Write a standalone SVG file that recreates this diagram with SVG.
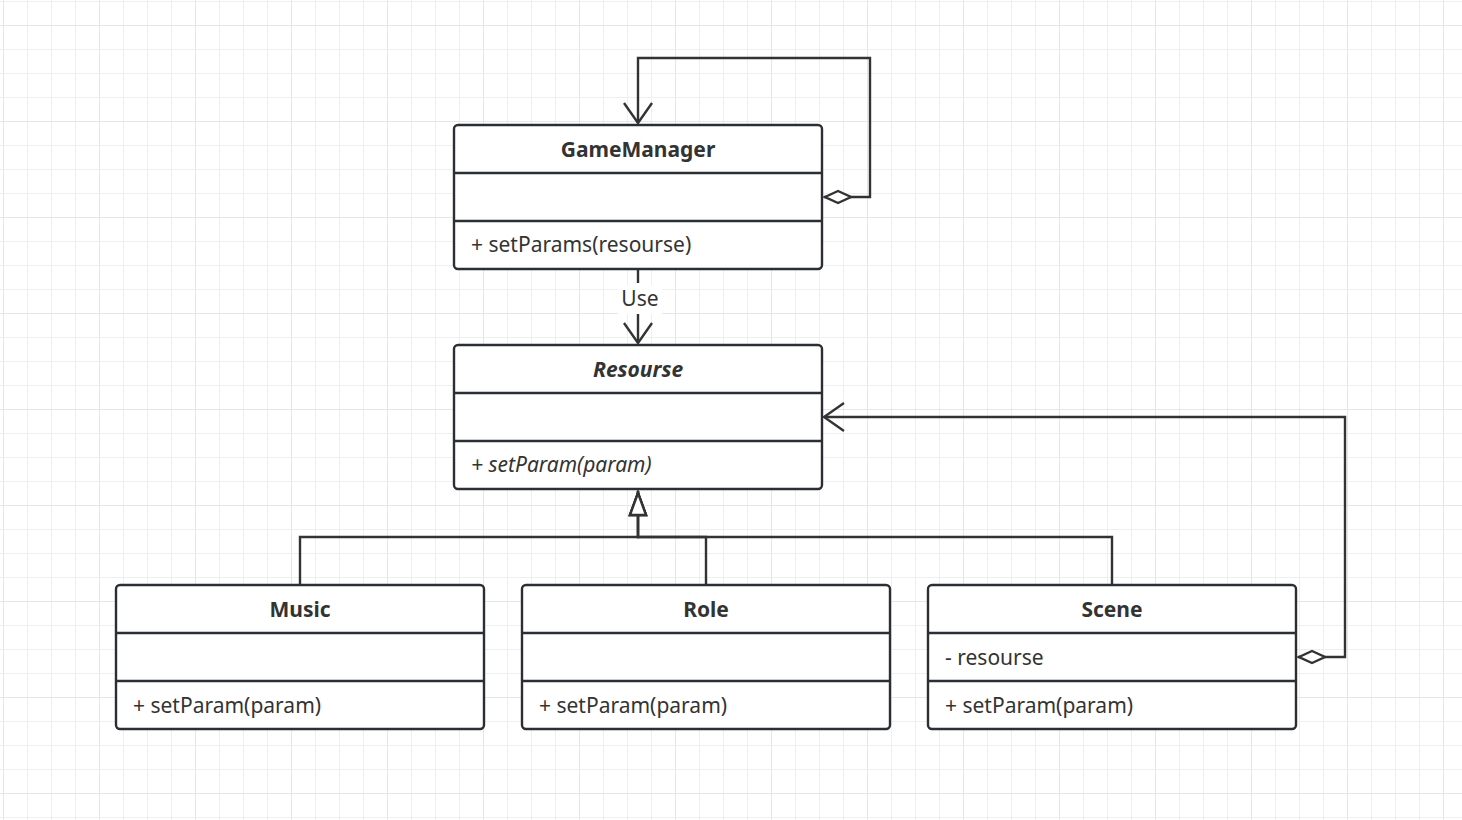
<svg xmlns="http://www.w3.org/2000/svg" width="1462" height="820" viewBox="0 0 1462 820">
<defs>
<pattern id="minor" x="3" y="1" width="24" height="24" patternUnits="userSpaceOnUse">
<path d="M0 0H24M0 0V24" fill="none" stroke="#efefef" stroke-width="2"/>
</pattern>
<pattern id="major" x="3" y="25" width="96" height="96" patternUnits="userSpaceOnUse">
<path d="M0 0H96M0 0V96" fill="none" stroke="#e6e6e6" stroke-width="2"/>
</pattern>
<marker id="open" viewBox="0 0 24 32" refX="22" refY="16" markerWidth="24" markerHeight="32" markerUnits="userSpaceOnUse" orient="auto">
<path d="M2 2L22 16L2 30" fill="none" stroke="#333" stroke-width="2.4"/>
</marker>
<marker id="diamond" viewBox="0 0 32 16" refX="1" refY="8" markerWidth="32" markerHeight="16" markerUnits="userSpaceOnUse" orient="auto">
<path d="M2 8L15 2L28 8L15 14Z" fill="#fff" stroke="#333" stroke-width="2.4"/>
</marker>
<marker id="tri" viewBox="0 0 28 20" refX="26" refY="10" markerWidth="28" markerHeight="20" markerUnits="userSpaceOnUse" orient="auto">
<path d="M2 2L24 10L2 18Z" fill="#fff" stroke="#333" stroke-width="2.4"/>
</marker>
</defs>
<style>
.box{fill:#fff;stroke:#2b2f33;stroke-width:2.4}
.div{stroke:#2b2f33;stroke-width:2.4}
.edge{fill:none;stroke:#333;stroke-width:2.4}
.t{font-family:"Noto Sans","Open Sans",sans-serif;fill:#333;font-size:21px}
.h{font-weight:bold;text-anchor:middle}
.i{font-style:italic}
</style>
<rect width="1462" height="820" fill="#fff"/>
<rect width="1462" height="820" fill="url(#minor)"/>
<rect width="1462" height="820" fill="url(#major)"/>

<g id="connectors">
<path class="edge" d="M824 197H870V58H638V123" marker-start="url(#diamond)" marker-end="url(#open)"/>
<path class="edge" d="M638 269V343" stroke-dasharray="14 31 32" marker-end="url(#open)"/>
<rect x="618" y="285" width="44" height="29" fill="#fff"/>
<text class="t" x="640" y="306" text-anchor="middle" font-size="20">Use</text>
<path class="edge" d="M1298 657H1345V417H824" marker-start="url(#diamond)" marker-end="url(#open)"/>
<path class="edge" d="M300 585V537H638V491" marker-end="url(#tri)"/>
<path class="edge" d="M706 585V537H638V491" marker-end="url(#tri)"/>
<path class="edge" d="M1112 585V537H638V491" marker-end="url(#tri)"/>
</g>

<g id="GameManager">
<rect class="box" x="454" y="125" width="368" height="144" rx="4"/>
<line class="div" x1="454" y1="173" x2="822" y2="173"/>
<line class="div" x1="454" y1="221" x2="822" y2="221"/>
<text class="t h" x="638" y="157">GameManager</text>
<text class="t" x="471" y="252">+ setParams(resourse)</text>
</g>

<g id="Resourse">
<rect class="box" x="454" y="345" width="368" height="144" rx="4"/>
<line class="div" x1="454" y1="393" x2="822" y2="393"/>
<line class="div" x1="454" y1="441" x2="822" y2="441"/>
<text class="t h i" x="638" y="377">Resourse</text>
<text class="t i" x="471" y="472">+ setParam(param)</text>
</g>

<g id="Music">
<rect class="box" x="116" y="585" width="368" height="144" rx="4"/>
<line class="div" x1="116" y1="633" x2="484" y2="633"/>
<line class="div" x1="116" y1="681" x2="484" y2="681"/>
<text class="t h" x="300" y="617">Music</text>
<text class="t" x="133" y="713">+ setParam(param)</text>
</g>

<g id="Role">
<rect class="box" x="522" y="585" width="368" height="144" rx="4"/>
<line class="div" x1="522" y1="633" x2="890" y2="633"/>
<line class="div" x1="522" y1="681" x2="890" y2="681"/>
<text class="t h" x="706" y="617">Role</text>
<text class="t" x="539" y="713">+ setParam(param)</text>
</g>

<g id="Scene">
<rect class="box" x="928" y="585" width="368" height="144" rx="4"/>
<line class="div" x1="928" y1="633" x2="1296" y2="633"/>
<line class="div" x1="928" y1="681" x2="1296" y2="681"/>
<text class="t h" x="1112" y="617">Scene</text>
<text class="t" x="945" y="665">- resourse</text>
<text class="t" x="945" y="713">+ setParam(param)</text>
</g>
</svg>
